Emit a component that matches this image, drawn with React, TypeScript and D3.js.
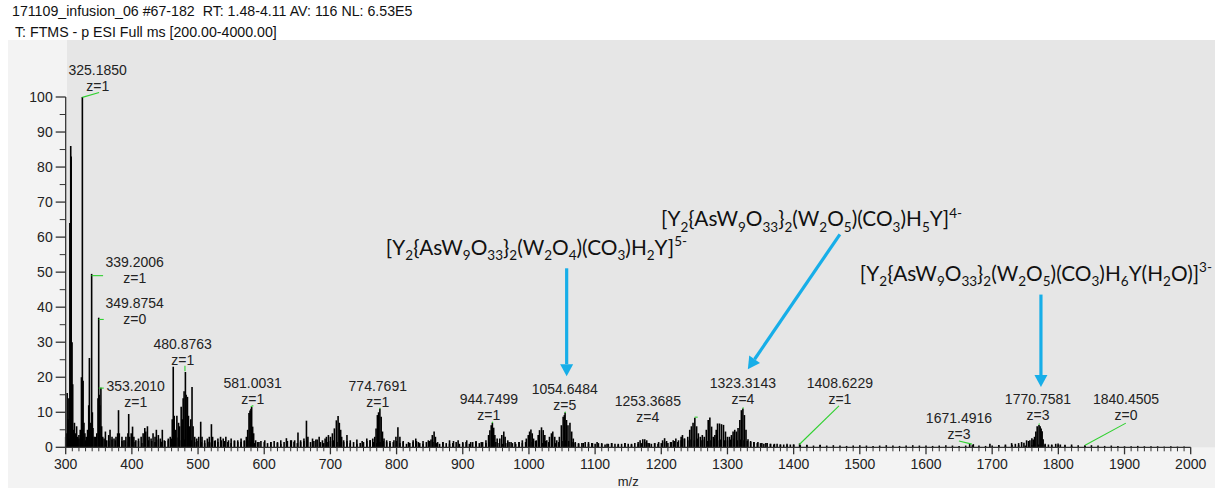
import React from "react";
import * as d3 from "d3";

// ---------- text ----------
const HEADER_1 = "171109_infusion_06 #67-182  RT: 1.48-4.11 AV: 116 NL: 6.53E5";
const HEADER_2 = "T: FTMS - p ESI Full ms [200.00-4000.00]";
const X_LABEL = "m/z";
const X_TICKS = [300, 400, 500, 600, 700, 800, 900, 1000, 1100, 1200, 1300, 1400, 1500, 1600, 1700, 1800, 1900, 2000];
const Y_TICKS = [0, 10, 20, 30, 40, 50, 60, 70, 80, 90, 100];

// ---------- spectrum peaks [m/z, relative abundance] ----------
const peaks: [number, number][] = [
  [301, 4], [302.2, 15.5], [303.5, 8], [304.8, 14], [306.3, 64], [307.6, 86], [308.3, 83], [309.6, 30], [310.6, 18],
  [312, 5], [313.2, 7], [315, 4], [316.5, 6], [318, 3], [320, 3.5], [322, 5], [323.8, 20], [325.185, 100], [326.3, 19],
  [327.6, 7], [329, 4], [331, 3], [333, 5], [334.8, 12], [335.8, 25.5], [337, 7], [339.2, 49.5], [340.3, 10], [341.2, 5.5],
  [343, 3], [345, 2.5], [347, 4], [348.8, 14], [349.875, 37], [350.6, 15], [351.6, 12], [353.2, 17], [354.3, 6], [356, 3],
  [358, 2.5], [360, 4.5], [362, 2], [365, 3.5], [367, 5], [370, 3], [373, 2.5], [376, 3], [378.5, 4], [379.8, 10.6],
  [381, 4], [385, 3], [388, 2], [391, 3], [394, 4], [395.2, 9.5], [396.5, 3], [399, 4], [401, 5.9], [403, 3], [406, 2],
  [410, 2.5], [414, 3], [417, 4], [419.5, 5.5], [421, 4.5], [423.5, 6], [426, 3], [429, 2.5], [432, 4], [435, 3], [437, 5],
  [440, 3.5], [443, 2.5], [446, 5], [449, 2], [455, 2.5], [458, 3], [461, 8], [462.5, 23], [464, 9], [466, 5], [468, 9],
  [470.5, 7], [472, 6], [474.5, 11.6], [476, 8], [477.5, 14], [478.9, 16], [480.876, 21.5], [482, 15], [484, 14.4],
  [485.5, 9], [487, 6], [489, 8], [490.9, 17.2], [492.5, 6], [495, 3], [498, 2.5], [501, 3], [504, 7.3], [506, 3], [510, 2],
  [514, 2.5], [517, 3], [520.2, 6.6], [522, 3], [526, 2], [530, 2.5], [534, 3], [538, 2.5], [542, 3], [546, 2], [550, 2.5],
  [555, 2], [560, 2], [565, 2.5], [570, 2], [573, 3], [575, 5], [577, 9.8], [578.5, 10.5], [580, 11], [581.003, 11.5],
  [582.5, 5.9], [584, 4], [587, 2], [592, 1.5], [600.8, 2], [610, 1.5], [620, 1.5], [625, 2], [633.5, 2.6], [641, 2],
  [646, 2], [651, 4.2], [655, 2], [660, 2.5], [663.8, 7.6], [666, 3], [673, 2.5], [678, 2.2], [683, 3], [688, 2], [692, 2.5],
  [694, 3], [697, 3.5], [700, 3], [703, 4], [706, 5.4], [709, 7.7], [711.6, 8.9], [713.5, 7], [715.5, 5], [717, 3], [720, 2],
  [725, 3.5], [730, 2], [740, 2.2], [748, 1.8], [755, 2.5], [760, 2], [764, 2.5], [767, 3], [769, 5.4], [771, 9.2],
  [772.8, 10], [774.769, 11.1], [776.7, 8.7], [778.7, 4.5], [781, 2.5], [785, 2], [790, 1.8], [796, 2], [799, 3], [802, 5.7],
  [805, 3], [810, 1.8], [818, 1.5], [825, 2], [829, 2.5], [833, 1.5], [840, 1.8], [848, 2], [852, 2.2], [854, 3.5],
  [856.7, 4.5], [858.7, 3], [862, 1.5], [870, 1.5], [880, 2], [886, 1.8], [893, 2], [900, 1.5], [906, 2], [912, 1.5],
  [920, 1.6], [928, 1.5], [935, 2], [939, 3.5], [941, 4.9], [943, 6.3], [944.75, 7], [946.7, 5.6], [948.5, 3.5], [952, 2.5],
  [956, 2.5], [959, 3.5], [962, 4.5], [964, 3], [968, 2], [973, 1.5], [979, 1.5], [985, 1.5], [990, 2], [996, 2.5],
  [999, 3.5], [1001, 4.5], [1003, 5.1], [1005, 4], [1007, 2.5], [1011, 2], [1014, 3.5], [1016, 4.9], [1019, 5.7],
  [1021.6, 4.9], [1024, 3.5], [1027, 2], [1031, 3], [1034, 4], [1036, 4.5], [1039, 3], [1042, 2], [1046, 3], [1049, 6.3],
  [1051.7, 8.7], [1053.5, 9.2], [1054.648, 9.9], [1056.8, 7.8], [1059, 6.3], [1062, 7], [1064.6, 4.5], [1067, 2.5],
  [1070, 1.5], [1075, 1.2], [1082, 1.2], [1090, 1.5], [1096, 1.2], [1103, 1.5], [1110, 1.2], [1118, 1], [1125, 1.2],
  [1135, 1], [1145, 1.2], [1155, 1], [1165, 1.5], [1168, 2], [1172, 2.3], [1175, 2.3], [1178, 2], [1182, 1.2], [1190, 1.2],
  [1196, 1.5], [1202, 2], [1205, 2.6], [1208, 1.8], [1214, 1.5], [1218, 2], [1222, 2.5], [1226, 2], [1230, 3], [1232, 3.5],
  [1235, 2.5], [1240, 3], [1243, 5], [1245.5, 6], [1248, 7], [1250.7, 8.4], [1253.4, 6], [1256, 4], [1259, 3], [1262, 3.5],
  [1265, 3], [1268, 5], [1270.9, 7.8], [1273.4, 8.5], [1276, 5.9], [1278.5, 3], [1281, 3.5], [1283, 5], [1285, 6.8],
  [1288, 6.8], [1291, 6.6], [1294, 6.4], [1297, 4.5], [1300, 3], [1303, 3], [1306, 3.5], [1308.5, 4.5], [1311, 5],
  [1313.5, 4.5], [1316, 5.5], [1318.7, 7.8], [1321, 10.6], [1323.314, 11.1], [1325.6, 9.2], [1328, 5], [1331, 2.3],
  [1335, 1.8], [1340, 1.5], [1346, 1.5], [1352, 1.2], [1358, 1.2], [1365, 1], [1371, 1], [1380, 0.8], [1390, 0.6],
  [1400, 0.8], [1409, 1.1], [1420, 0.6], [1440, 0.7], [1666, 1], [1671.5, 0.9], [1696.6, 1], [1710, 0.6], [1720, 0.8],
  [1729.4, 1.2], [1735, 1], [1740, 1.2], [1744.5, 1.5], [1748, 1.3], [1752, 2], [1755, 1.8], [1757, 2], [1760, 2.6],
  [1762, 2.2], [1764, 3], [1766, 4.5], [1768, 6], [1770.758, 6.4], [1772.5, 6], [1774, 5.4], [1775.5, 4.6], [1777, 2.3],
  [1780, 1], [1785, 0.8], [1790, 0.8], [1796, 1], [1799.6, 1.1], [1803, 0.8], [1810, 0.5], [1820, 0.4], [1840.45, 0.5],
];

// baseline noise, 300-1395 every 5 m/z
const NOISE_LOW_START = 300;
const NOISE_LOW_STEP = 5;
const noiseLow: number[] = [
  3, 2.5, 2, 3, 2.5, 3, 2, 2.5, 2, 3, 2, 2.5, 2, 1.8, 2.2, 2, 1.5, 1.8, 2, 1.5,
  2, 1.5, 1.8, 1.2, 1.5, 2, 1.8, 1.5, 2.2, 1.6, 1.8, 2, 2.5, 2, 2.8, 2, 2.2, 1.8, 2, 1.5,
  1.8, 1.5, 1.2, 1.6, 1.4, 1.8, 1.5, 2, 1.8, 1.5, 1.2, 1.8, 1.5, 1.6, 1.8, 2, 1.5, 1.2, 1.5, 1.8,
  1.5, 1.2, 1.5, 1.8, 1.2, 1, 1.5, 1.8, 2, 1.6, 1.2, 1.5, 1.8, 2, 1.5, 1.8, 2.2, 1.5, 1.2, 1.5,
  1.8, 2, 1.5, 1.2, 1.5, 1.8, 1.2, 1.5, 1, 1.2, 1.5, 1.8, 2, 1.5, 1.2, 1.5, 1.8, 1.5, 1.2, 1.5,
  1.8, 1.2, 1.5, 1, 1.2, 1.5, 1.8, 1.2, 1, 1.5, 1.8, 1.5, 1.2, 1, 1.5, 1.2, 1, 1.2, 1.5, 1,
  1.2, 1.5, 1, 1.5, 1.8, 1.2, 1.5, 1.2, 1.5, 1.8, 1.5, 1.2, 1, 1.2, 1.5, 1.2, 1, 1.5, 1.2, 1.5,
  1.8, 1.5, 1.8, 1.5, 1.2, 1.8, 1.5, 1.5, 1.2, 1.5, 1.8, 2, 1.8, 1.5, 1.2, 1, 1.2, 1.5, 1, 1.2,
  1, 1.2, 1, 0.8, 1, 1.2, 1, 0.8, 1, 1.2, 1, 0.8, 1.2, 1, 1.2, 1.5, 1.2, 1, 1.2, 1,
  1.2, 1.5, 1.2, 1.5, 1.8, 1.5, 2, 2.5, 2, 2.2, 2, 2.5, 2, 2.2, 1.8, 2, 2.5, 2, 2.2, 2,
  2, 2.2, 2.5, 2, 2.2, 2, 1.8, 1.5, 1.5, 1.2, 1.2, 1, 1.2, 1, 0.8, 1, 0.8, 0.8, 1, 0.8,
];
// baseline noise, 1400-1990 every 10 m/z
const NOISE_HIGH_START = 1400;
const NOISE_HIGH_STEP = 10;
const noiseHigh: number[] = [
  0.8, 0.6, 0.7, 0.5, 0.6, 0.5, 0.6, 0.5, 0.4, 0.5, 0.6, 0.5, 0.4, 0.5, 0.6, 0.5, 0.4, 0.5, 0.6, 0.5,
  0.5, 0.4, 0.5, 0.6, 0.5, 0.4, 0.5, 0.6, 0.5, 0.4, 0.5, 0.6, 0.5, 0.7, 0.6, 0.5, 0.6, 0.8, 0.7, 0.6,
  0.6, 0.7, 0.8, 0.6, 0.5, 0.6, 0.5, 0.4, 0.5, 0.4, 0.3, 0.3, 0.4, 0.3, 0.3, 0.3, 0.2, 0.3, 0.2, 0.2,
];

// ---------- peak annotations ----------
const labelMz = [325.185, 339.2006, 349.8754, 353.201, 480.8763, 581.0031, 774.7691, 944.7499, 1054.6484, 1253.3685, 1323.3143, 1408.6229, 1671.4916, 1770.7581, 1840.4505];
const labelMass = ["325.1850", "339.2006", "349.8754", "353.2010", "480.8763", "581.0031", "774.7691", "944.7499", "1054.6484", "1253.3685", "1323.3143", "1408.6229", "1671.4916", "1770.7581", "1840.4505"];
const labelCharge = ["z=1", "z=1", "z=0", "z=1", "z=1", "z=1", "z=1", "z=1", "z=5", "z=4", "z=4", "z=1", "z=3", "z=3", "z=0"];

// layout of the annotation texts (label center m/z, baseline abundance) and leader ends
const labelPos: [number, number][] = [
  [348.4, 106.2], [404.3, 51.4], [404.3, 39.7], [405.8, 16.1], [476.8, 28], [582.6, 16.9], [771.6, 16.1], [939.4, 12.3],
  [1054.2, 15.2], [1179.7, 11.8], [1323.3, 16.9], [1469.9, 16.9], [1649.8, 6.9], [1769.2, 12.3], [1902.2, 12.3],
];
const leaderStart: [number, number][] = [
  [325.185, 99.9], [339.0, 49], [349.9, 36.5], [350, 16.9], [480.2, 21.7], [579.5, 11.6], [774.4, 10.9], [944.5, 6.9],
  [1054.4, 9.8], [1250.5, 8.6], [1323.1, 11], [1408.6, 0.8], [1649.8, 1.8], [1770.6, 6.4], [1840.4, 0.6],
];
const leaderEnd: [number, number][] = [
  [350.5, 101.3], [356.5, 49], [357.5, 36.5], [357.5, 16.9], [480.2, 23.3], [583.5, 11.9], [775.2, 11.3], [945.3, 7.3],
  [1055.2, 10.2], [1255, 8.6], [1323.9, 11.4], [1468.5, 11.8], [1669.4, 0.9], [1771.4, 6.8], [1902, 6.9],
];

// ---------- species formulas and arrows ----------
const formulas = [
  "[Y_2{AsW_9O_33}_2(W_2O_4)(CO_3)H_2Y]^5-",
  "[Y_2{AsW_9O_33}_2(W_2O_5)(CO_3)H_5Y]^4-",
  "[Y_2{AsW_9O_33}_2(W_2O_5)(CO_3)H_6Y(H_2O)]^3-",
];
const formulaPos: [number, number][] = [[783.7, 54.9], [1199.4, 63.1], [1500, 47.6]];
const arrowTail: [number, number][] = [[1057, 51.1], [1469.9, 60.8], [1773.7, 43.6]];
const arrowTip: [number, number][] = [[1057, 20.3], [1330.8, 22.3], [1773.7, 17.2]];

// ---------- helpers ----------
type Seg = { t: string; k: "n" | "sub" | "sup" };
function parseFormula(s: string): Seg[] {
  const out: Seg[] = [];
  let i = 0;
  while (i < s.length) {
    if (s[i] === "_") {
      let j = i + 1;
      while (j < s.length && /\d/.test(s[j])) j++;
      out.push({ t: s.slice(i + 1, j), k: "sub" });
      i = j;
    } else if (s[i] === "^") {
      out.push({ t: s.slice(i + 1), k: "sup" });
      i = s.length;
    } else {
      let j = i;
      while (j < s.length && s[j] !== "_" && s[j] !== "^") j++;
      out.push({ t: s.slice(i, j), k: "n" });
      i = j;
    }
  }
  return out;
}

const W = 1228;
const H = 489;
const AXIS_FONT = "'Liberation Sans', Arial, sans-serif";
const BLUE = "#17aee8";
const GREEN = "#2fd12f";
const F_SIZE = 20.8;
const F_SMALL = 13.5;

export default function App() {
  const x = d3.scaleLinear().domain([300, 2000]).range([65.7, 1190.7]);
  const y = d3.scaleLinear().domain([0, 100]).range([447.3, 97]);
  const y0 = y(0);

  const minorX = d3.range(300, 2001, 10).filter((v) => v % 100 !== 0);
  const minorY = d3.range(5, 100, 10);

  const sticks: [number, number][] = [
    ...noiseLow.map((v, i) => [NOISE_LOW_START + i * NOISE_LOW_STEP, v] as [number, number]),
    ...noiseHigh.map((v, i) => [NOISE_HIGH_START + i * NOISE_HIGH_STEP, v] as [number, number]),
    ...peaks,
  ];

  const renderFormula = (f: string, idx: number) => {
    const segs = parseFormula(f);
    let cur = 0;
    const [fx, fy] = formulaPos[idx];
    return (
      <text key={"f" + idx} x={x(fx)} y={y(fy)} fontFamily="Lato, 'Open Sans', sans-serif" fontSize={F_SIZE} fill="#111">
        {segs.map((s, i) => {
          const target = s.k === "sub" ? 5.5 : s.k === "sup" ? -8.5 : 0;
          const dy = target - cur;
          cur = target;
          return (
            <tspan key={i} dy={dy} fontSize={s.k === "n" ? F_SIZE : F_SMALL}>
              {s.t}
            </tspan>
          );
        })}
      </text>
    );
  };

  const arrowPath = (i: number) => {
    const tx = x(arrowTail[i][0]);
    const ty = y(arrowTail[i][1]);
    const hx = x(arrowTip[i][0]);
    const hy = y(arrowTip[i][1]);
    const ang = Math.atan2(hy - ty, hx - tx);
    const len = 12;
    const half = 6.5;
    const bx = hx - len * Math.cos(ang);
    const by = hy - len * Math.sin(ang);
    const px = -Math.sin(ang);
    const py = Math.cos(ang);
    return (
      <g key={"a" + i}>
        <line x1={tx} y1={ty} x2={bx} y2={by} stroke={BLUE} strokeWidth={3.2} />
        <path d={`M${hx},${hy} L${bx + px * half},${by + py * half} L${bx - px * half},${by - py * half} Z`} fill={BLUE} />
      </g>
    );
  };

  return (
    <div style={{ position: "absolute", left: 0, top: 0, width: W, height: H, background: "#fff" }}>
      <svg width={W} height={H} style={{ display: "block" }}>
        <rect x={8} y={40} width={1207} height={448} fill="#f3f3f3" />
        <rect x={67} y={40} width={1148} height={y0 - 40} fill="#e6e6e6" />

        <text x={12} y={16} fontFamily={AXIS_FONT} fontSize={14.2} fill="#111" style={{ whiteSpace: "pre" }}>{HEADER_1}</text>
        <text x={15} y={37} fontFamily={AXIS_FONT} fontSize={14.2} fill="#111">{HEADER_2}</text>

        {/* spectrum */}
        <g stroke="#000" strokeWidth={1.6}>
          {sticks.map(([m, v], i) => (
            <line key={i} x1={x(m)} x2={x(m)} y1={y0} y2={y(v)} />
          ))}
        </g>

        {/* axes */}
        <g stroke="#333" strokeWidth={1.3}>
          <line x1={x(300)} x2={x(2000)} y1={y0} y2={y0} />
          <line x1={x(300)} x2={x(300)} y1={y(0)} y2={y(100)} />
          {X_TICKS.map((t) => (
            <line key={"xt" + t} x1={x(t)} x2={x(t)} y1={y0} y2={y0 + 7} />
          ))}
          {minorX.map((t) => (
            <line key={"xm" + t} x1={x(t)} x2={x(t)} y1={y0} y2={y0 + 4} strokeWidth={1} />
          ))}
          {Y_TICKS.map((t) => (
            <line key={"yt" + t} x1={x(300) - 10} x2={x(300)} y1={y(t)} y2={y(t)} />
          ))}
          {minorY.map((t) => (
            <line key={"ym" + t} x1={x(300) - 6} x2={x(300)} y1={y(t)} y2={y(t)} strokeWidth={1} />
          ))}
        </g>
        <g fontFamily={AXIS_FONT} fontSize={14} fill="#222">
          {X_TICKS.map((t) => (
            <text key={"xl" + t} x={x(t)} y={y0 + 22} textAnchor="middle">{t}</text>
          ))}
          {Y_TICKS.map((t) => (
            <text key={"yl" + t} x={x(300) - 13} y={y(t) + 5} textAnchor="end">{t}</text>
          ))}
        </g>
        <text x={x(1150)} y={486} textAnchor="middle" fontFamily={AXIS_FONT} fontSize={13} fill="#222">{X_LABEL}</text>

        {/* leaders */}
        <g stroke={GREEN} strokeWidth={1.1}>
          {labelMz.map((_, i) => (
            <line key={"ld" + i} x1={x(leaderStart[i][0])} y1={y(leaderStart[i][1])} x2={x(leaderEnd[i][0])} y2={y(leaderEnd[i][1])} />
          ))}
        </g>
        {/* peak labels */}
        <g fontFamily={AXIS_FONT} fontSize={14} fill="#222" textAnchor="middle">
          {labelMz.map((m, i) => (
            <g key={"lb" + i}>
              <text x={x(labelPos[i][0])} y={y(labelPos[i][1])}>{labelMass[i]}</text>
              <text x={x(labelPos[i][0])} y={y(labelPos[i][1]) + 16}>{labelCharge[i]}</text>
            </g>
          ))}
        </g>

        {formulas.map((f, i) => renderFormula(f, i))}
        {arrowTail.map((_, i) => arrowPath(i))}
      </svg>
    </div>
  );
}
